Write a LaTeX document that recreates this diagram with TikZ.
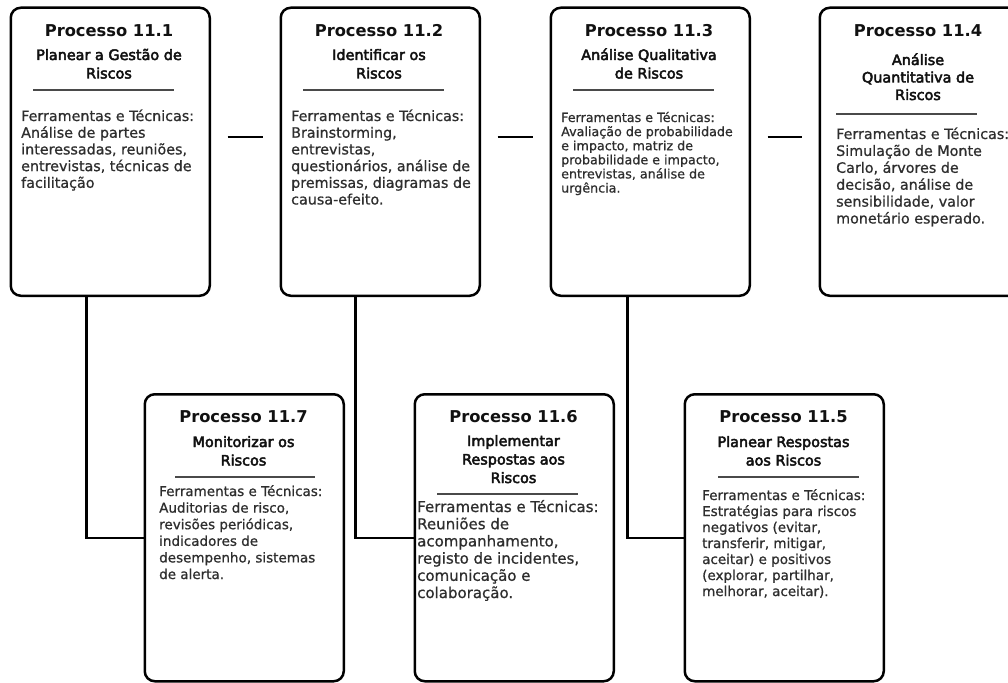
\documentclass[tikz,border=0pt]{standalone}
\usepackage{fontspec}
\setmainfont{DejaVu Sans}
\newfontfamily\subfont{DejaVu Sans}[FakeBold=3.2]
\newfontfamily\txtfont{DejaVu Sans}[FakeBold=0.8]
\usetikzlibrary{calc}

% multi-line blocks whose baseline is the first line's baseline
\newcommand{\cardsub}[2][18.5]{\parbox[t]{196pt}{\centering\subfont\fontsize{14.4}{#1}\selectfont #2}}
\newcommand{\cardbody}[3]{\parbox[t]{200pt}{\raggedright\txtfont\fontsize{#1}{#2}\selectfont #3}}

\definecolor{ink}{HTML}{111111}
\definecolor{bodyink}{HTML}{2E2E2E}
\definecolor{rulegray}{HTML}{4A4A4A}

\begin{document}
\begin{tikzpicture}[x=1pt,y=-1pt,
  card/.style={draw=black, line width=2.5pt, rounded corners=10pt, fill=white,
               minimum width=199pt, inner sep=0pt, anchor=north west},
  toprow/.style={card, minimum height=288pt},
  botrow/.style={card, minimum height=287pt},
  link/.style={draw=black, line width=2.5pt},
  gap/.style={link, shorten <=16.5pt, shorten >=16.5pt},
  ttl/.style={font=\bfseries\fontsize{16.3}{19}\selectfont, text=ink, anchor=base, inner sep=0pt},
  sub/.style={text=ink, anchor=base, inner sep=0pt},
  body/.style={text=bodyink, anchor=base west, inner sep=0pt},
  sep/.style={draw=rulegray, line width=1.3pt}
]
\useasboundingbox (0,0) rectangle (1008,682);
\clip (0,0) rectangle (1008,682);

% ---------- cards ----------
\node[toprow] (p1) at (9.5,6.5) {};
\node[toprow] (p2) at (279.5,6.5) {};
\node[toprow] (p3) at (549.5,6.5) {};
\node[toprow] (p4) at (818.5,6.5) {};
\node[botrow] (p7) at (143.5,393) {};
\node[botrow] (p6) at (413.5,393) {};
\node[botrow] (p5) at (683.5,393) {};

% ---------- connectors ----------
\draw[gap] ($(p1.north east)+(0,130.5)$) -- ($(p2.north west)+(0,130.5)$);
\draw[gap] ($(p2.north east)+(0,130.5)$) -- ($(p3.north west)+(0,130.5)$);
\draw[gap] ($(p3.north east)+(0,130.5)$) -- ($(p4.north west)+(0,130.5)$);
\draw[link] ([xshift=-24pt]p1.south) |- (p7.west);
\draw[link] ([xshift=-25pt]p2.south) |- (p6.west);
\draw[link] ([xshift=-23pt]p3.south) |- (p5.west);

% ---------- 11.1 ----------
\node[ttl] (h1) at (109,37) {Processo 11.1};
\node[sub] (s1) at (109,60) {\cardsub{Planear a Gestão de\\Riscos}};
\draw[sep] (33,90) -- (174,90);
\node[body] (b1) at (21,121) {\cardbody{14.3}{16.7}{Ferramentas e Técnicas:\\Análise de partes\\interessadas, reuniões,\\entrevistas, técnicas de\\facilitação}};

% ---------- 11.2 ----------
\node[ttl] (h2) at (379,37) {Processo 11.2};
\node[sub] (s2) at (379,60) {\cardsub{Identificar os\\Riscos}};
\draw[sep] (303,90) -- (444,90);
\node[body] (b2) at (291,121) {\cardbody{14.3}{16.7}{Ferramentas e Técnicas:\\Brainstorming,\\entrevistas,\\questionários, análise de\\premissas, diagramas de\\causa-efeito.}};

% ---------- 11.3 ----------
\node[ttl] (h3) at (649,37) {Processo 11.3};
\node[sub] (s3) at (649,60) {\cardsub{Análise Qualitativa\\de Riscos}};
\draw[sep] (573,90) -- (714,90);
\node[body] (b3) at (561,122) {\cardbody{12.7}{14.1}{Ferramentas e Técnicas:\\Avaliação de probabilidade\\e impacto, matriz de\\probabilidade e impacto,\\entrevistas, análise de\\urgência.}};

% ---------- 11.4 ----------
\node[ttl] (h4) at (918,37) {Processo 11.4};
\node[sub] (s4) at (918,65) {\cardsub[17.5]{Análise\\Quantitativa de\\Riscos}};
\draw[sep] (836,114) -- (977,114);
\node[body] (b4) at (836,139) {\cardbody{14.3}{16.9}{Ferramentas e Técnicas:\\Simulação de Monte\\Carlo, árvores de\\decisão, análise de\\sensibilidade, valor\\monetário esperado.}};

% ---------- 11.7 ----------
\node[ttl] (h7) at (243.5,422) {Processo 11.7};
\node[sub] (s7) at (243.5,447) {\cardsub{Monitorizar os\\Riscos}};
\draw[sep] (175,477) -- (315,477);
\node[body] (b7) at (159,496) {\cardbody{13.5}{16.6}{Ferramentas e Técnicas:\\Auditorias de risco,\\revisões periódicas,\\indicadores de\\desempenho, sistemas\\de alerta.}};

% ---------- 11.6 ----------
\node[ttl] (h6) at (513.5,422.5) {Processo 11.6};
\node[sub] (s6) at (513.5,446) {\cardsub{Implementar\\Respostas aos\\Riscos}};
\draw[sep] (437,494) -- (578,494);
\node[body] (b6) at (417,512) {\cardbody{15}{17.2}{Ferramentas e Técnicas:\\Reuniões de\\acompanhamento,\\registo de incidentes,\\comunicação e\\colaboração.}};

% ---------- 11.5 ----------
\node[ttl] (h5) at (783.5,422) {Processo 11.5};
\node[sub] (s5) at (783.5,447) {\cardsub{Planear Respostas\\aos Riscos}};
\draw[sep] (718,477) -- (859,477);
\node[body] (b5) at (702,500) {\cardbody{13.5}{16}{Ferramentas e Técnicas:\\Estratégias para riscos\\negativos (evitar,\\transferir, mitigar,\\aceitar) e positivos\\(explorar, partilhar,\\melhorar, aceitar).}};
\end{tikzpicture}
\end{document}
